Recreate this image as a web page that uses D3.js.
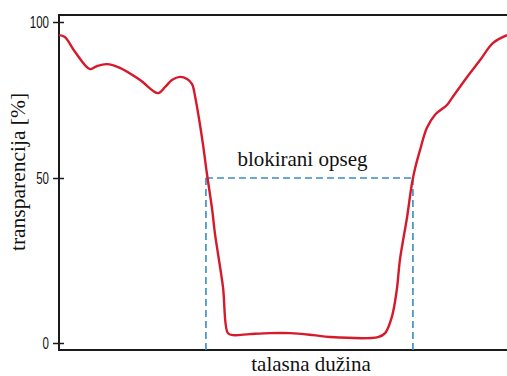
<!DOCTYPE html>
<html>
<head>
<meta charset="utf-8">
<script src="https://cdn.jsdelivr.net/npm/d3@7"></script>
<style>
  html, body { margin: 0; padding: 0; background: #fff; }
  svg { display: block; }
</style>
</head>
<body>
<svg id="chart" width="507" height="376"></svg>
<script>
// Transmission curve of a band-stop filter: wavelength (relative units 0-100) vs transparency [%]
const wavelength = [0, 1.3, 3.6, 6.9, 8.5, 10.7, 13.6, 18.1, 22.1, 23.7, 25.2, 27.0, 28.6, 29.7, 30.4, 31.3, 32.1, 33.0, 34.2, 34.8, 36.6, 37.7, 38.8, 42.6, 47.1, 51.6, 56.7, 60.5, 71.2, 72.8, 74.3, 75.4, 76.1, 77.7, 78.8, 79.5, 80.6, 82.1, 83.9, 86.6, 87.7, 91.1, 94.0, 96.9, 100];
const transparency = [95.8, 95.2, 90.4, 84.9, 85.9, 86.5, 85.3, 81.4, 77.2, 79.2, 81.4, 82.4, 81.7, 80.1, 76.0, 68.6, 61.2, 51.6, 40.3, 33.3, 17.0, 3.0, 2.4, 2.7, 3.0, 3.0, 2.4, 1.8, 1.8, 3.0, 7.9, 16.1, 25.2, 38.2, 48.5, 53.2, 59.0, 66.0, 70.2, 73.4, 75.6, 82.4, 87.8, 93.3, 95.8];

// Stop band edges, taken where the curve crosses half transmission
const bandEdges = [32.8, 79.0];
const halfLevel = 50;

const yTicks = [0, 50, 100];
const yTitle = "transparencija [%]";
const xTitle = "talasna dužina";
const bandLabel = "blokirani opseg";

const svg = d3.select("#chart");
const plotLeft = 59, plotRight = 507, plotTop = 15, plotBottom = 350;

const x = d3.scaleLinear().domain([0, 100]).range([plotLeft, plotRight]);
const y = d3.scaleLinear().domain([0, 50, 100]).range([343, 178, 22]);

// Frame: left axis, top and bottom rules
svg.append("path")
  .attr("d", `M${plotRight},${plotTop}H${plotLeft}V${plotBottom}H${plotRight}`)
  .attr("fill", "none")
  .attr("stroke", "#1a1a1a")
  .attr("stroke-width", 2);

// Y axis ticks crossing the axis line, with narrow numerals
const squeeze = 0.72;
const yAxis = svg.append("g")
  .attr("transform", `translate(${plotLeft},0)`)
  .call(d3.axisLeft(y).tickValues(yTicks).tickSize(6).tickPadding(4));
yAxis.select(".domain").remove();
yAxis.selectAll(".tick line").attr("x1", 5).attr("x2", -6).attr("stroke", "#1a1a1a").attr("stroke-width", 1.5);
yAxis.selectAll(".tick text")
  .attr("font-family", "Liberation Sans")
  .attr("font-size", 16)
  .attr("fill", "#111")
  .attr("x", -10 / squeeze)
  .attr("transform", `scale(${squeeze},1)`);

// Stop band marker (dashed)
const dash = svg.append("g")
  .attr("fill", "none")
  .attr("stroke", "#3a8cc0")
  .attr("stroke-width", 1.6)
  .attr("stroke-dasharray", "7,4");
dash.append("line")
  .attr("x1", x(bandEdges[0])).attr("x2", x(bandEdges[1]))
  .attr("y1", y(halfLevel)).attr("y2", y(halfLevel));
bandEdges.forEach(e => {
  dash.append("line")
    .attr("x1", x(e)).attr("x2", x(e))
    .attr("y1", y(halfLevel)).attr("y2", plotBottom);
});

// Transmission curve
const pts = wavelength.map((w, i) => [w, transparency[i]]);
svg.append("path")
  .datum(pts)
  .attr("fill", "none")
  .attr("stroke", "#d51a2c")
  .attr("stroke-width", 2.4)
  .attr("stroke-linejoin", "round")
  .attr("d", d3.line().x(d => x(d[0])).y(d => y(d[1])).curve(d3.curveCatmullRom.alpha(0.5)));

// Labels
function label(txt, size) {
  return svg.append("text")
    .attr("font-family", "Liberation Serif")
    .attr("font-size", size)
    .attr("fill", "#111")
    .attr("text-anchor", "middle")
    .text(txt);
}

label(bandLabel, 21)
  .attr("x", (x(bandEdges[0]) + x(bandEdges[1])) / 2 - 7)
  .attr("y", 166);

label(xTitle, 21)
  .attr("x", 311).attr("y", 371);

label(yTitle, 21.5)
  .attr("transform", "translate(25,172) rotate(-90)");
</script>
</body>
</html>
